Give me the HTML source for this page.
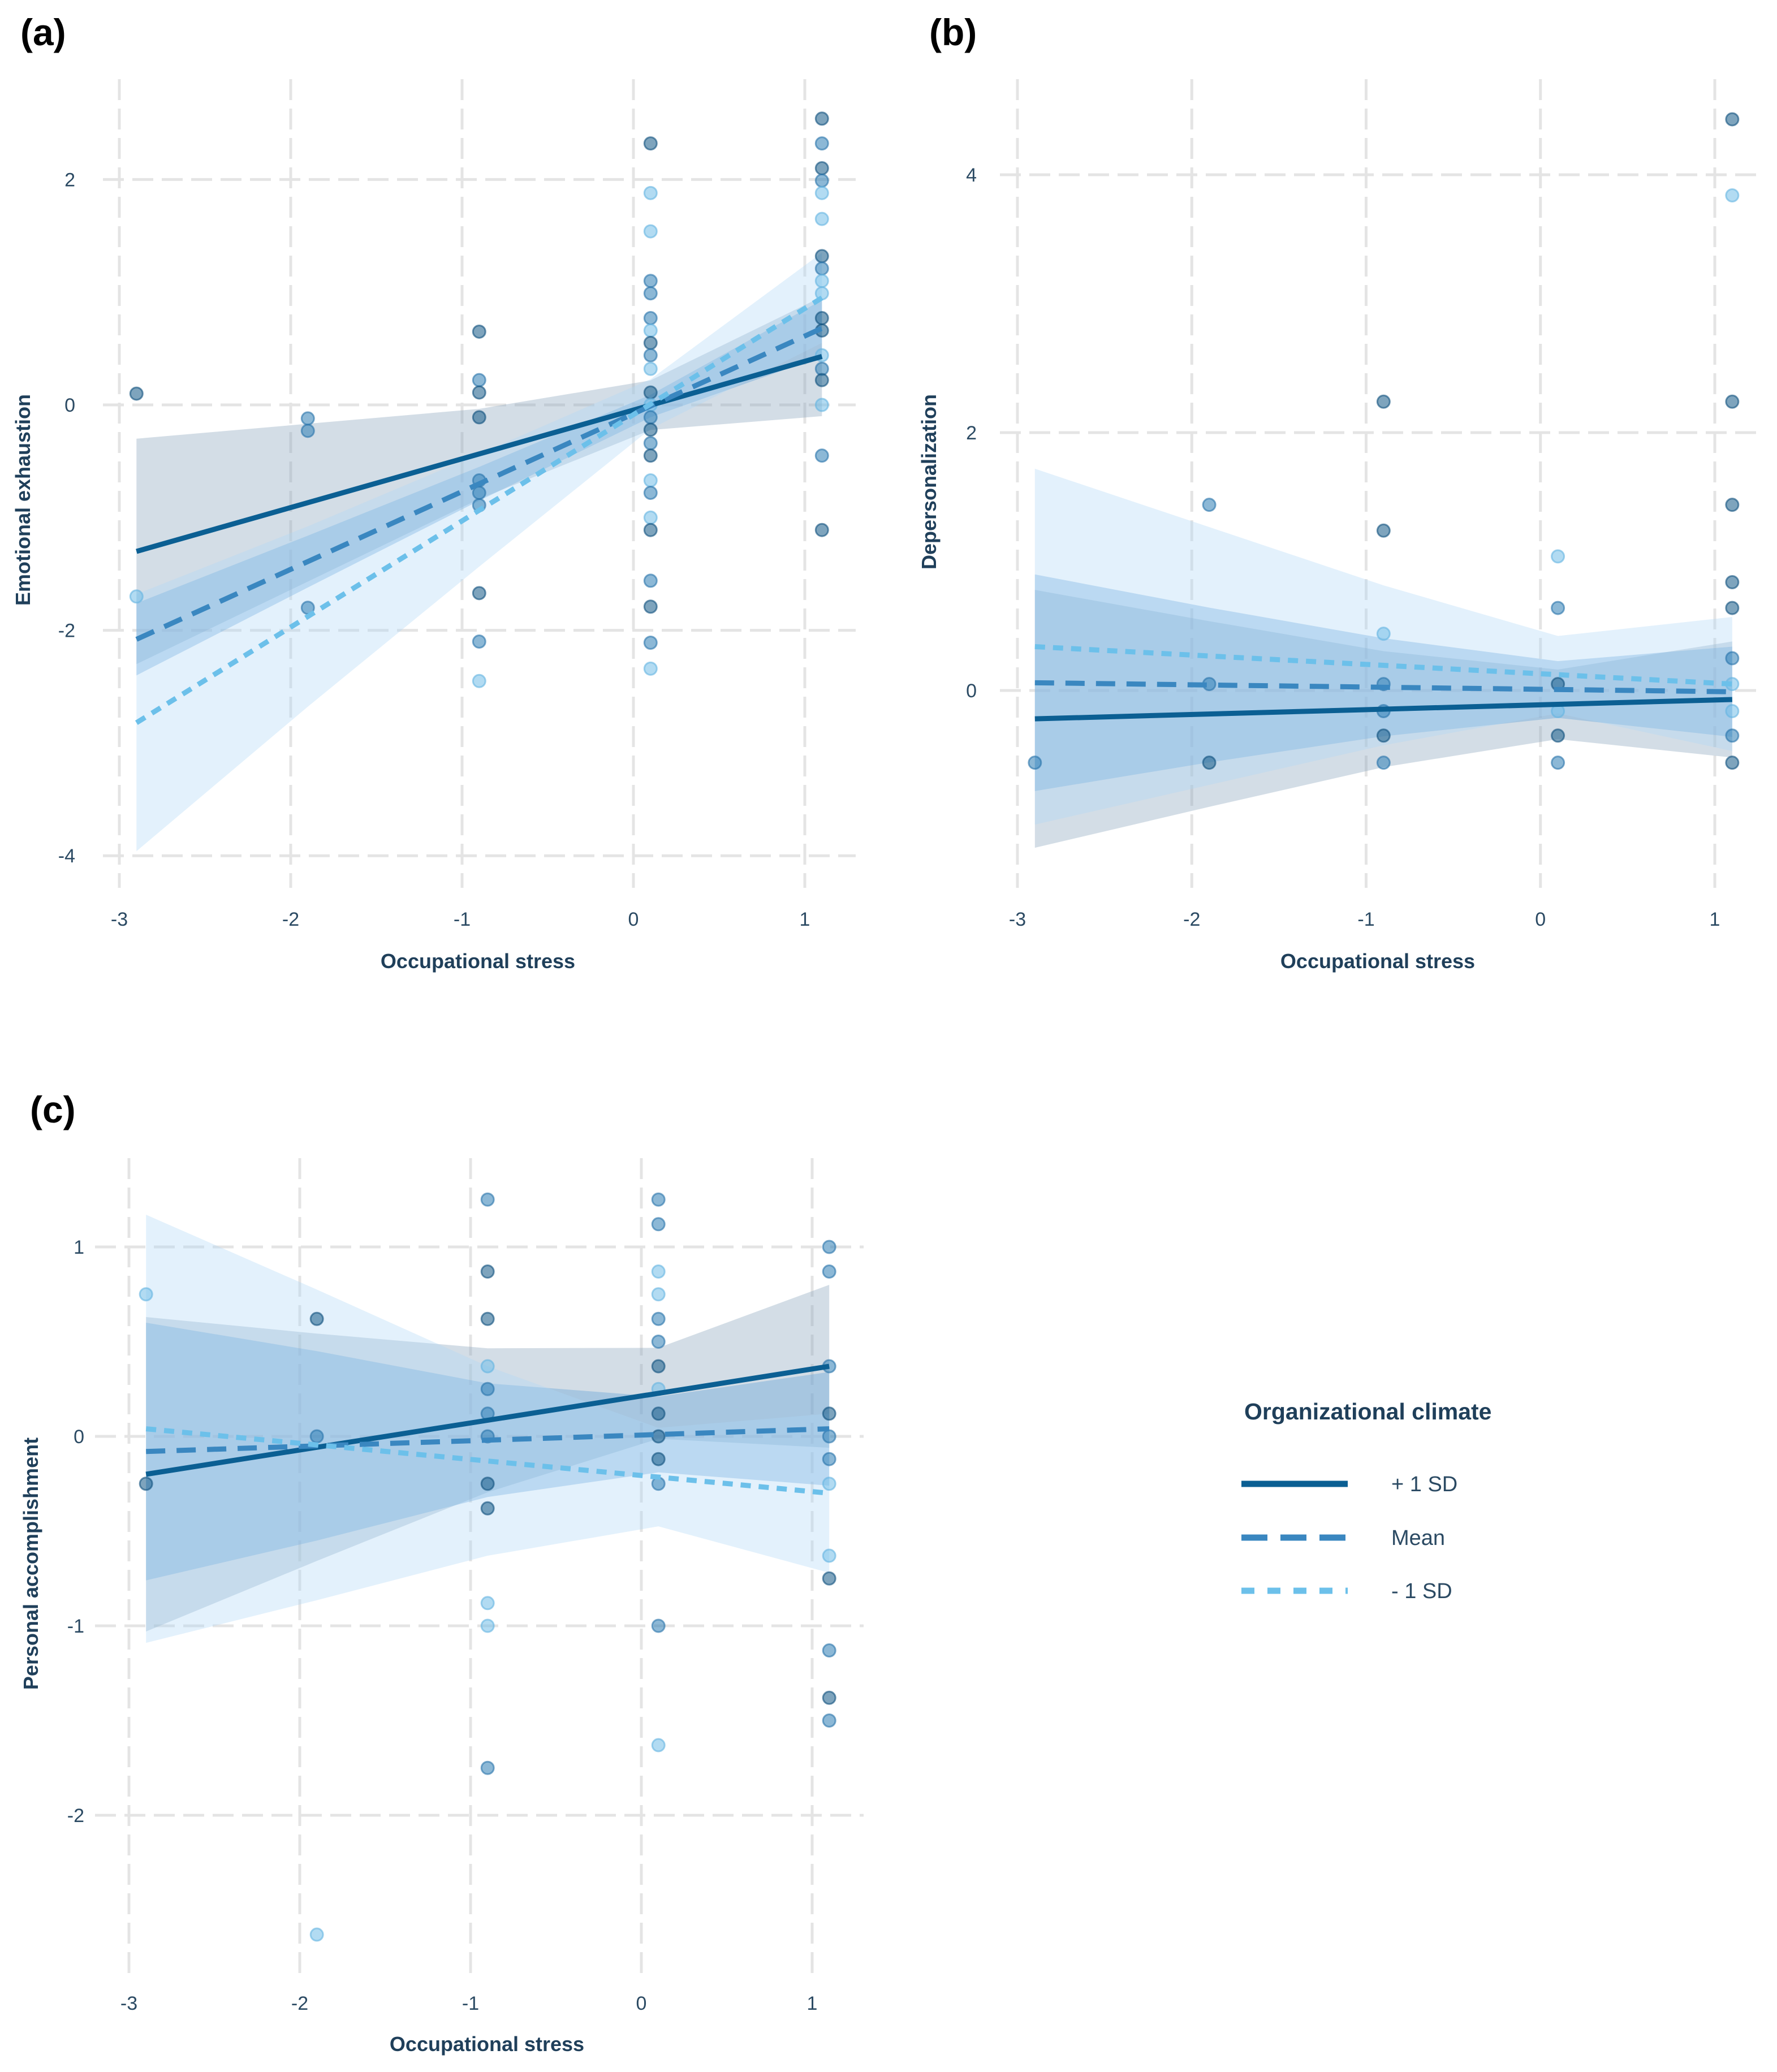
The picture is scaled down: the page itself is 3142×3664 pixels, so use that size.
<!DOCTYPE html>
<html><head><meta charset="utf-8"><style>
html,body{margin:0;padding:0;background:#fff;}
svg text{font-family:"Liberation Sans",Arial,sans-serif;}
</style></head><body>
<svg id="fig" width="3142" height="3659" viewBox="0 0 3142 3659" xmlns="http://www.w3.org/2000/svg">
<rect width="3142" height="3659" fill="#fff"/>
</svg>
<script>
// ---------- shared data ----------
const xTicks = [-3,-2,-1,0,1];
const xGrid = [-2.9,-1.9,-0.9,0.1,1.1];
const seriesNames = ['+ 1 SD','Mean','- 1 SD'];

// Panel (a) Emotional exhaustion
const aYTicks = [2,0,-2,-4];
const aLinePlus = [-1.3,0.43];
const aLineMean = [-2.08,0.68];
const aLineMinus = [-2.82,0.95];
const aHwPlus = [1.0,0.7,0.4,0.22,0.53];
const aHwMean = [0.32,0.23,0.15,0.1,0.25];
const aHwMinus = [1.14,0.8,0.5,0.22,0.4];
const aPtsX = [-2.9,-2.9,-1.9,-1.9,-1.9,
 -0.9,-0.9,-0.9,-0.9,-0.9,-0.9,-0.9,-0.9,-0.9,-0.9,
 0.1,0.1,0.1,0.1,0.1,0.1,0.1,0.1,0.1,0.1,0.1,0.1,0.1,0.1,0.1,0.1,0.1,0.1,0.1,0.1,0.1,0.1,0.1,0.1,
 1.1,1.1,1.1,1.1,1.1,1.1,1.1,1.1,1.1,1.1,1.1,1.1,1.1,1.1,1.1,1.1,1.1,1.1];
const aPtsY = [0.1,-1.7,-0.12,-0.23,-1.8,
 0.65,0.22,0.11,-0.11,-0.67,-0.78,-0.89,-1.67,-2.1,-2.45,
 2.32,1.88,1.54,1.1,0.99,0.77,0.66,0.55,0.44,0.32,0.11,0,-0.11,-0.22,-0.34,-0.45,-0.67,-0.78,-1.0,-1.11,-1.56,-1.79,-2.11,-2.34,
 2.54,2.32,2.1,1.99,1.88,1.65,1.32,1.21,1.1,0.99,0.77,0.66,0.44,0.32,0.22,0,-0.45,-1.11];
const aPtsG = [0,2,1,1,1,
 0,1,0,0,1,1,1,0,1,2,
 0,2,2,1,1,1,2,0,1,2,0,2,1,0,1,0,2,1,2,0,1,0,1,2,
 0,1,0,1,2,2,0,1,2,2,0,0,2,1,0,2,1,0];

// Panel (b) Depersonalization
const bYTicks = [4,2,0];
const bLinePlus = [-0.22,-0.07];
const bLineMean = [0.06,-0.01];
const bLineMinus = [0.34,0.05];
const bHwPlus = [1.0,0.72,0.45,0.27,0.45];
const bHwMean = [0.84,0.6,0.38,0.22,0.35];
const bHwMinus = [1.38,1.0,0.62,0.3,0.52];
const bPtsX = [-2.9,-1.9,-1.9,-1.9,-0.9,-0.9,-0.9,-0.9,-0.9,-0.9,-0.9,
 0.1,0.1,0.1,0.1,0.1,0.1,
 1.1,1.1,1.1,1.1,1.1,1.1,1.1,1.1,1.1,1.1,1.1];
const bPtsY = [-0.56,1.44,0.05,-0.56,2.24,1.24,0.44,0.05,-0.16,-0.35,-0.56,
 1.04,0.64,0.05,-0.16,-0.35,-0.56,
 4.43,3.84,2.24,1.44,0.84,0.64,0.25,0.05,-0.16,-0.35,-0.56];
const bPtsG = [1,1,1,0,0,0,2,1,1,0,1,
 2,1,0,2,0,1,
 0,2,0,0,0,0,1,2,2,1,0];

// Panel (c) Personal accomplishment
const cYTicks = [1,0,-1,-2];
const cLinePlus = [-0.2,0.37];
const cLineMean = [-0.08,0.04];
const cLineMinus = [0.04,-0.3];
const cHwPlus = [0.83,0.6,0.38,0.24,0.43];
const cHwMean = [0.68,0.5,0.3,0.2,0.3];
const cHwMinus = [1.13,0.82,0.5,0.26,0.42];
const cPtsX = [-2.9,-2.9,-1.9,-1.9,-1.9,
 -0.9,-0.9,-0.9,-0.9,-0.9,-0.9,-0.9,-0.9,-0.9,-0.9,-0.9,-0.9,
 0.1,0.1,0.1,0.1,0.1,0.1,0.1,0.1,0.1,0.1,0.1,0.1,0.1,0.1,
 1.1,1.1,1.1,1.1,1.1,1.1,1.1,1.1,1.1,1.1,1.1,1.1];
const cPtsY = [0.75,-0.25,0.62,0,-2.63,
 1.25,0.87,0.62,0.37,0.25,0.12,0,-0.25,-0.38,-0.88,-1.0,-1.75,
 1.25,1.12,0.87,0.75,0.62,0.5,0.37,0.25,0.12,0,-0.12,-0.25,-1.0,-1.63,
 1.0,0.87,0.37,0.12,0,-0.12,-0.25,-0.63,-0.75,-1.13,-1.38,-1.5];
const cPtsG = [2,0,0,1,2,
 1,0,0,2,1,1,1,0,0,2,2,1,
 1,1,2,2,1,1,0,2,0,0,0,1,1,2,
 1,1,1,0,1,1,2,2,0,1,0,1];

// ---------- drawing ----------
const NS='http://www.w3.org/2000/svg';
const svg=document.getElementById('fig');
const lineCol=['#0b5f93','#3a87c0','#6cc0ea'];
const ptFill=['rgba(20,90,135,0.55)','rgba(45,125,180,0.55)','rgba(115,190,232,0.55)'];
const ptStroke=['rgba(15,80,125,0.6)','rgba(40,115,170,0.6)','rgba(100,180,225,0.6)'];
const bandFill=['rgba(140,165,190,0.38)','rgba(95,160,215,0.38)','rgba(175,215,245,0.35)'];
const dashes=['none','34,20','18,14'];
function mk(tag,attrs,parent){const e=document.createElementNS(NS,tag);for(const k in attrs)e.setAttribute(k,attrs[k]);(parent||svg).appendChild(e);return e;}

function panel(cfg){
  const g=mk('g',{});
  
  
  const X=v=>cfg.x0+(v-(-3))*cfg.ux;
  const Y=v=>cfg.y0-v*cfg.uy;
  cfg.yTicks.forEach(t=>{
    const l=mk('line',{x1:cfg.gx0,x2:cfg.gx1,y1:Y(t),y2:Y(t),stroke:'#e4e4e4','stroke-width':5,'stroke-dasharray':'37,15'},g);
    
    
    const tx=mk('text',{x:cfg.ylx,y:Y(t)+12,'text-anchor':'end','font-size':34,fill:'#2b4a63'},g);
    tx.textContent=String(t);
    
    
  });
  xTicks.forEach(t=>{
    const l=mk('line',{x1:X(t),x2:X(t),y1:cfg.gy0,y2:cfg.gy1,stroke:'#e4e4e4','stroke-width':5,'stroke-dasharray':'37,15'},g);
    
    
    const tx=mk('text',{x:X(t),y:cfg.xly,'text-anchor':'middle','font-size':34,fill:'#2b4a63'},g);
    tx.textContent=String(t);
    
    
  });
  const lines=[cfg.plus,cfg.mean,cfg.minus];
  const hws=[cfg.hwPlus,cfg.hwMean,cfg.hwMinus];
  [0,1,2].forEach(i=>{
    const L=lines[i];
    const val=x=>L[0]+(L[1]-L[0])*(x-(-2.9))/4;
    let up=xGrid.map((x,k)=>X(x)+','+Y(val(x)+hws[i][k]));
    let lo=xGrid.map((x,k)=>X(x)+','+Y(val(x)-hws[i][k])).reverse();
    const p=mk('polygon',{points:up.concat(lo).join(' '),fill:bandFill[i]},g);
    
    
  });
  cfg.px.forEach((x,k)=>{
    const c=mk('circle',{cx:X(x),cy:Y(cfg.py[k]),r:11,fill:ptFill[cfg.pg[k]],stroke:ptStroke[cfg.pg[k]],'stroke-width':3},g);
    
    
  });
  [0,1,2].forEach(i=>{
    const L=lines[i];
    const l=mk('line',{x1:X(-2.9),y1:Y(L[0]),x2:X(1.1),y2:Y(L[1]),stroke:lineCol[i],'stroke-width':9,'stroke-dasharray':dashes[i]},g);
    
    
  });
  let t=mk('text',{x:cfg.lblx,y:cfg.lbly,'font-size':66,'font-weight':'bold',fill:'#000'},g);
  t.textContent=cfg.label;
  
  
  t=mk('text',{x:cfg.xtx,y:cfg.xty,'text-anchor':'middle','font-size':36,'font-weight':'bold',fill:'#1f3f5a'},g);
  t.textContent='Occupational stress';
  
  
  t=mk('text',{x:0,y:0,'text-anchor':'middle','font-size':36,'font-weight':'bold',fill:'#1f3f5a',transform:'translate('+cfg.ytx+','+cfg.yty+') rotate(-90)'},g);
  t.textContent=cfg.ytitle;
  
  
}

panel({name:'panel-a-emotional-exhaustion',label:'(a)',lblx:36,lbly:80,ytitle:'Emotional exhaustion',
 x0:211,ux:303,y0:716,uy:199.3,gx0:182,gx1:1513,gy0:140,gy1:1570,ylx:133,xly:1637,
 xtx:845,xty:1712,ytx:53,yty:884,yTicks:aYTicks,
 plus:aLinePlus,mean:aLineMean,minus:aLineMinus,hwPlus:aHwPlus,hwMean:aHwMean,hwMinus:aHwMinus,
 px:aPtsX,py:aPtsY,pg:aPtsG});
panel({name:'panel-b-depersonalization',label:'(b)',lblx:1643,lbly:80,ytitle:'Depersonalization',
 x0:1799,ux:308.25,y0:1221,uy:228,gx0:1768,gx1:3110,gy0:140,gy1:1570,ylx:1727,xly:1637,
 xtx:2436,xty:1712,ytx:1655,yty:852,yTicks:bYTicks,
 plus:bLinePlus,mean:bLineMean,minus:bLineMinus,hwPlus:bHwPlus,hwMean:bHwMean,hwMinus:bHwMinus,
 px:bPtsX,py:bPtsY,pg:bPtsG});
panel({name:'panel-c-personal-accomplishment',label:'(c)',lblx:53,lbly:1985,ytitle:'Personal accomplishment',
 x0:228,ux:302,y0:2540,uy:335,gx0:168,gx1:1527,gy0:2048,gy1:3490,ylx:149,xly:3554,
 xtx:861,xty:3627,ytx:67,yty:2765,yTicks:cYTicks,
 plus:cLinePlus,mean:cLineMean,minus:cLineMinus,hwPlus:cHwPlus,hwMean:cHwMean,hwMinus:cHwMinus,
 px:cPtsX,py:cPtsY,pg:cPtsG});

// legend
const lg=mk('g',{});


let lt=mk('text',{x:2200,y:2510,'font-size':41,'font-weight':'bold',fill:'#1f3f5a'},lg);
lt.textContent='Organizational climate';


const legY=[2624,2719,2813];
seriesNames.forEach((n,i)=>{
  const l=mk('line',{x1:2195,x2:2383,y1:legY[i],y2:legY[i],stroke:lineCol[i],'stroke-width':11,'stroke-dasharray':i==0?'none':(i==1?'46,23':'23,23')},lg);
  
  
  const t=mk('text',{x:2460,y:legY[i]+13,'font-size':38,fill:'#2b4a63'},lg);
  t.textContent=n;
  
  
});
</script>
</body></html>
